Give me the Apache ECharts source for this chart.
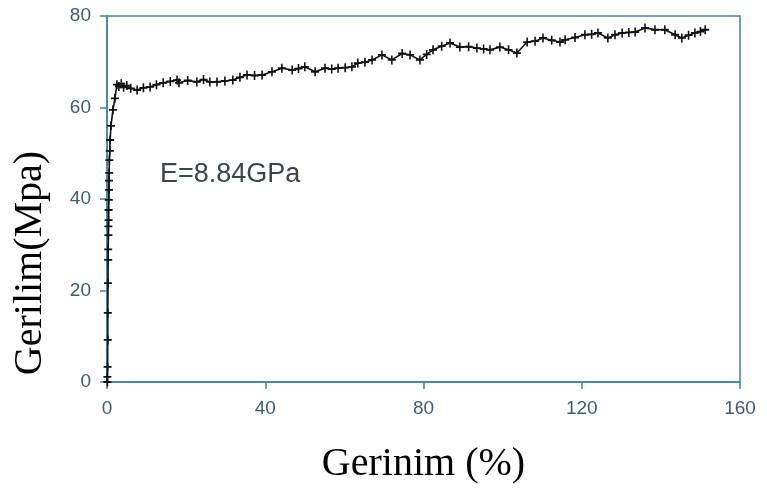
<!DOCTYPE html>
<html>
<head>
<meta charset="utf-8">
<script src="https://cdn.jsdelivr.net/npm/echarts@6/dist/echarts.min.js"></script>
<style>html,body{margin:0;padding:0;background:#fff}#c{width:767px;height:491px}</style>
</head>
<body>
<div id="c"></div>
<script>
var strain = [0.1,0.1,0.15,0.2,0.2,0.25,0.3,0.3,0.35,0.35,0.4,0.4,0.45,0.5,0.5,0.55,0.6,0.7,0.8,1.0,1.5,2.0,2.5,3.0,3.6,4.2,5.0,6.0,7.6,9.2,10.9,12.5,14.2,16.0,17.7,18.2,20.4,22.7,24.4,26.0,27.8,29.8,31.8,33.6,35.4,37.3,39.2,41.7,44.2,46.8,48.4,50.0,52.6,55.1,56.8,58.4,60.2,61.9,63.4,65.2,67.0,69.5,72.0,74.6,76.6,79.1,80.8,82.4,84.6,86.7,89.2,91.4,93.5,95.2,96.8,99.3,101.5,103.6,106.2,108.2,110.2,112.4,114.5,115.8,118.3,120.8,122.5,124.1,126.6,128.4,130.2,131.9,133.5,136.0,138.5,141.0,143.6,145.3,147.0,148.6,150.0,151.2];
var stress = [0,1.1,3.3,9.2,15.1,21.6,26.7,29.0,32.1,34.0,35.4,37.6,39.8,42.0,44.0,45.7,48.5,50.5,52.9,56.0,59.5,62.0,65.0,64.6,65.2,64.4,64.8,64.2,63.8,64.3,64.5,65.0,65.4,65.7,66.0,65.4,65.9,65.6,66.1,65.6,65.6,65.8,66.0,66.6,67.1,67.0,67.1,67.8,68.6,68.2,68.5,68.9,67.8,68.6,68.4,68.6,68.7,68.9,69.7,69.9,70.4,71.5,70.4,71.8,71.5,70.4,71.6,72.6,73.4,74.1,73.2,73.3,73.0,72.8,72.6,73.2,72.6,71.9,74.3,74.5,75.2,74.7,74.3,74.8,75.3,75.9,76.0,76.3,75.2,75.9,76.3,76.4,76.5,77.4,77.0,77.0,75.9,75.2,75.8,76.3,76.6,77.0];
var xTicks = [0,40,80,120,160];
var yTicks = [0,20,40,60,80];
var annotation = 'E=8.84GPa';
var xTitle = 'Gerinim (%)';
var yTitle = 'Gerilim(Mpa)';

var data = strain.map(function(s,i){return [s, stress[i]];});
var axisColor = '#3f82a0';
var chart = echarts.init(document.getElementById('c'));
chart.setOption({
  animation:false,
  grid:{left:107,right:27,top:16,bottom:109,show:true,borderColor:axisColor,borderWidth:1.5,backgroundColor:'transparent'},
  xAxis:{type:'value',min:0,max:160,interval:40,
    axisLine:{show:true,lineStyle:{color:axisColor,width:1.5}},
    axisTick:{show:true,inside:false,length:7,lineStyle:{color:axisColor,width:1.5}},
    axisLabel:{color:'#3d5f70',fontFamily:'Liberation Sans',fontSize:19,margin:17},
    splitLine:{show:false},
    name:xTitle,nameLocation:'middle',nameGap:62,
    nameTextStyle:{color:'#000',fontFamily:'Liberation Serif',fontSize:40}},
  yAxis:{type:'value',min:0,max:80,interval:20,
    axisLine:{show:true,lineStyle:{color:axisColor,width:1.5}},
    axisTick:{show:true,inside:false,length:7,lineStyle:{color:axisColor,width:1.5}},
    axisLabel:{color:'#3d5f70',fontFamily:'Liberation Sans',fontSize:19,margin:16},
    splitLine:{show:false}},
  graphic:[
    {type:'text',left:160,top:161,style:{text:annotation,fill:'#3a454c',font:'27px "Liberation Sans"'}},
    {type:'text',x:30,y:263,rotation:Math.PI/2,style:{text:yTitle,fill:'#000',font:'40px "Liberation Serif"',textAlign:'center',textVerticalAlign:'middle'}}
  ],
  series:[{type:'line',data:data,
    lineStyle:{color:'#111',width:1.6},
    itemStyle:{color:'#111'},
    symbol:'path://M4,0 L6,0 L6,4 L10,4 L10,6 L6,6 L6,10 L4,10 L4,6 L0,6 L0,4 L4,4 Z',
    symbolSize:[8,9],showSymbol:true}]
});
</script>
</body>
</html>
